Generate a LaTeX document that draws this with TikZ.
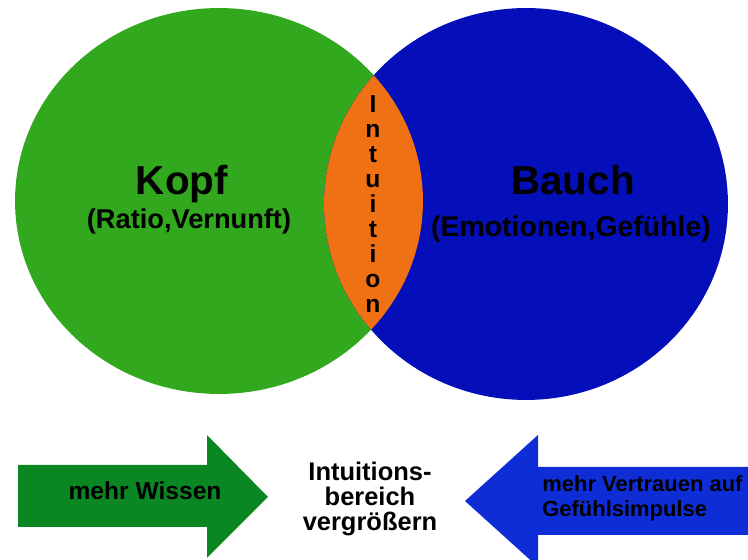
\documentclass[tikz,border=0pt]{standalone}
\usepackage{fontspec}
\setmainfont{Liberation Sans}
\usepackage{tikz}
\usetikzlibrary{positioning}

\definecolor{kopfgreen}{RGB}{50,168,30}
\definecolor{bauchblue}{RGB}{5,15,185}
\definecolor{lensorange}{RGB}{240,112,20}
\definecolor{wissengreen}{RGB}{10,135,35}
\definecolor{gefuehlblue}{RGB}{15,45,215}

\tikzset{
  title/.style={font=\fontsize{23}{27}\selectfont\bfseries, inner sep=0pt, anchor=base},
  subtitle/.style={font=\fontsize{15.5}{18}\selectfont\bfseries, inner sep=0pt, anchor=base},
  letter/.style={font=\fontsize{14}{16}\selectfont\bfseries, inner sep=0pt, anchor=base},
  arrowtext/.style={font=\fontsize{12.5}{15}\selectfont\bfseries, inner sep=0pt},
  middletext/.style={font=\fontsize{14.5}{14.2}\selectfont\bfseries, inner sep=0pt, align=center},
}

\begin{document}
\begin{tikzpicture}[x=0.02cm,y=-0.02cm]
    \useasboundingbox (0,0) rectangle (748,560);
    \clip (0,0) rectangle (748,560);

    % Kopf and Bauch, overlap is the Intuition lens
    \fill[kopfgreen] (219,201) ellipse [x radius=4.08cm, y radius=3.86cm];
    \fill[bauchblue] (526,204) ellipse [x radius=4.04cm, y radius=3.92cm];
    \begin{scope}
      \clip (219,201) ellipse [x radius=4.08cm, y radius=3.86cm];
      \fill[lensorange] (526,204) ellipse [x radius=4.04cm, y radius=3.92cm];
    \end{scope}

    \node[title] (kopf) at (182,195) {Kopf};
    \node[subtitle] (ratio) at (189,229) {(Ratio,Vernunft)};
    \node[title] (bauch) at (573,195) {Bauch};
    \node[subtitle, font=\fontsize{16.2}{18}\selectfont\bfseries] (emotion) at (571,237) {(Emotionen,Gefühle)};

    \foreach \ch [count=\i from 0] in {I,n,t,u,i,t,i,o,n}
      \node[letter] (int\i) at (373,113+25*\i) {\ch};

    % bottom row
    \fill[wissengreen] (18,465) -- (207,465) -- (207,435) -- (268,497) -- (207,558) -- (207,527) -- (18,527) -- cycle;
    \node[arrowtext, font=\fontsize{14}{15}\selectfont\bfseries, anchor=base] (wissen) at (145,500) {mehr Wissen};

    \node[middletext] (bereich) at (370,499) {Intuitions-\\bereich\\vergrößern};

    \fill[gefuehlblue] (770,467) -- (538,467) -- (538,435) -- (465,501) -- (538,567) -- (538,535) -- (770,535) -- cycle;
    \node[arrowtext, anchor=base west] (vertrauen) at (542,492) {mehr Vertrauen auf};
    \node[arrowtext, anchor=base west] (impulse) at (542,517) {Gefühlsimpulse};
\end{tikzpicture}
\end{document}
